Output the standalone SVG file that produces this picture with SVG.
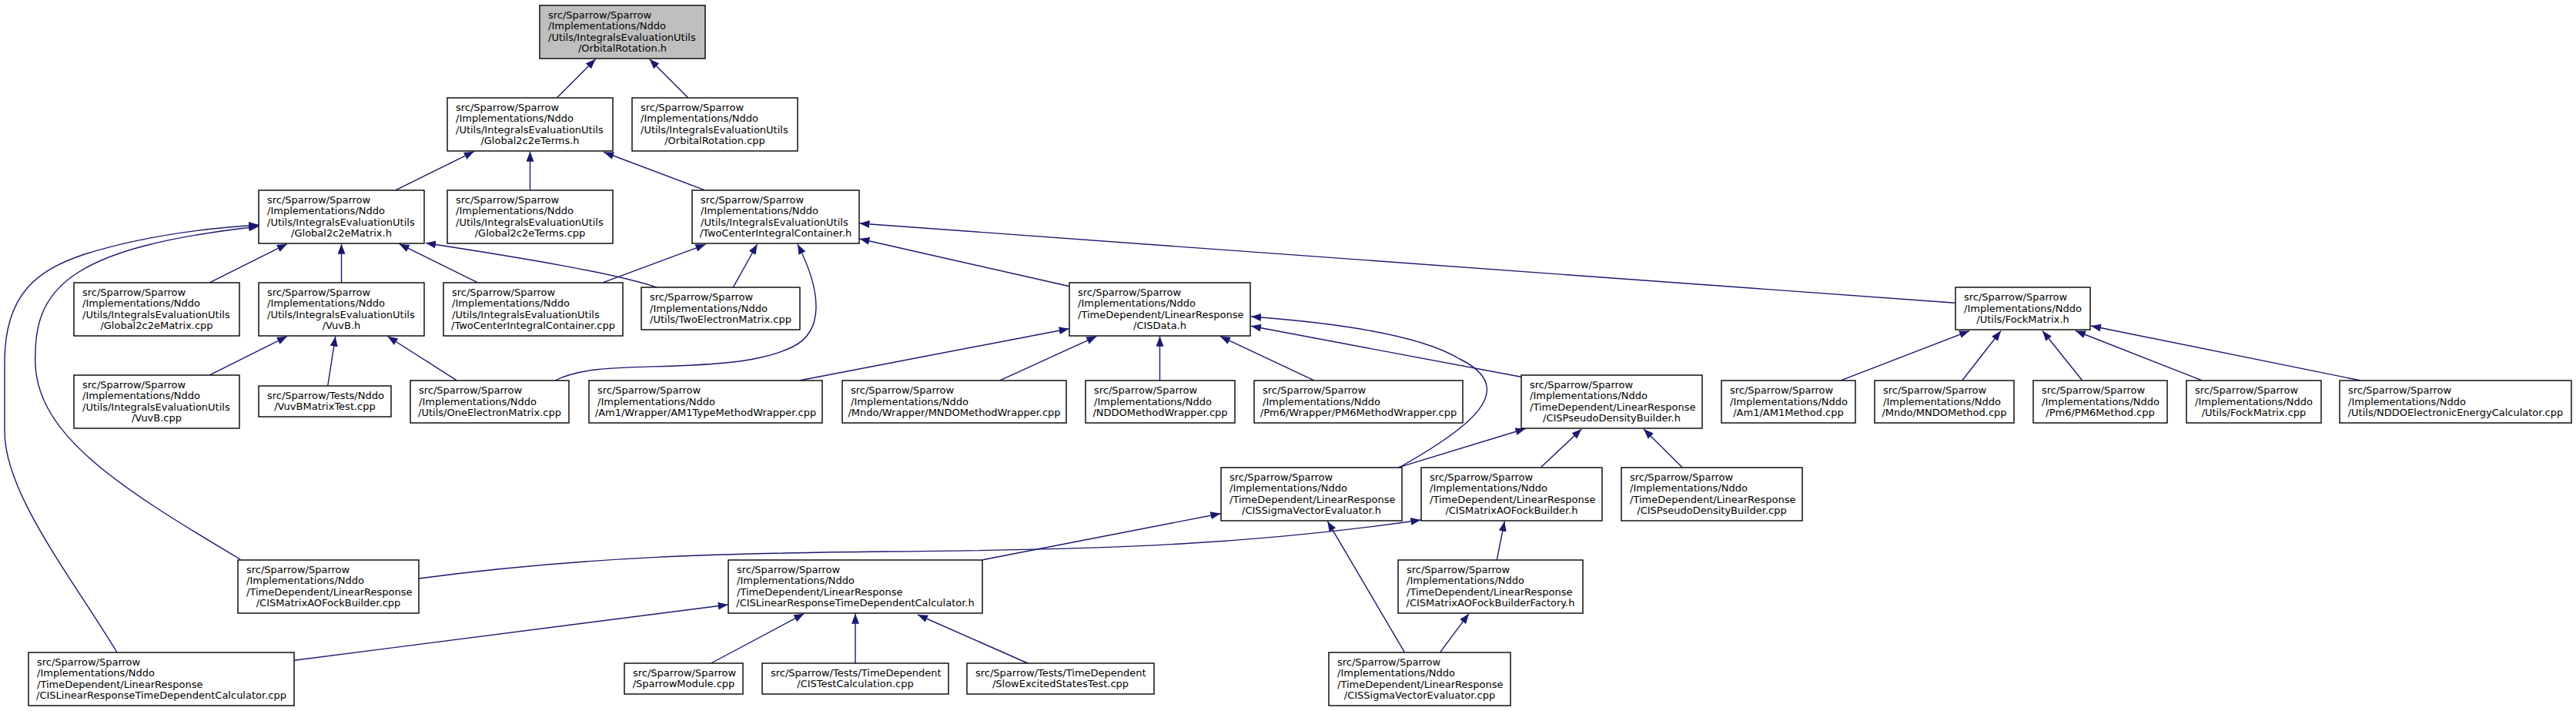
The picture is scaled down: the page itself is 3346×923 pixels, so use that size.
<svg xmlns="http://www.w3.org/2000/svg" width="3346" height="923" viewBox="0 0 3346 923">
<style>
.node rect{fill:#fff;stroke:#000;stroke-width:1.4}
.node rect.root{fill:#bfbfbf}
.node text{font-family:"DejaVu Sans","Liberation Sans",sans-serif;font-size:13px;fill:#000}
.node text.c{text-anchor:middle}
.edges path{fill:none;stroke:#191970;stroke-width:1.4;marker-end:url(#ah)}
</style>
<defs>
<marker id="ah" markerUnits="userSpaceOnUse" viewBox="0 0 13 10" refX="13" refY="5" markerWidth="13" markerHeight="10" orient="auto">
<path d="M0,0 L13,5 L0,10 z" fill="#191970"/>
</marker>
</defs>
<rect width="3346" height="923" fill="#fff"/>
<g class="edges">
<path d="M723.6,126.7 L773.6,76.7"/>
<path d="M893.6,126.7 L843.6,76.7"/>
<path d="M514.3,246.7 L615.7,196.7"/>
<path d="M688.5,246.7 L688.5,196.7"/>
<path d="M915,246.7 L784.3,197.5"/>
<path d="M272.9,366.7 L372.9,316.7"/>
<path d="M443.5,366.7 L443.5,316.7"/>
<path d="M620,366.7 L518.6,316.7"/>
<path d="M853.6,373.3 C800,355 680,335 553,315.5"/>
<path d="M312,726 C150,630 40,560 46,460 C46,370 100,320 336,294"/>
<path d="M152,847 C90,745 6,640 6,560 L6,470 C6,380 50,350 110,330 C190,305 270,296 336,292"/>
<path d="M783.6,366.7 L916.4,317.3"/>
<path d="M952.1,373.3 L983.6,317"/>
<path d="M721,494 C760,474 820,478 900,474 C960,471 1000,465 1030,450 C1070,430 1068,380 1036,317"/>
<path d="M1389.3,371.7 L1116.5,310"/>
<path d="M2539.6,393.3 L1116.5,290"/>
<path d="M272.9,486.7 L372.9,436.7"/>
<path d="M425.7,501 L435.7,436.7"/>
<path d="M592.9,493.7 L503.6,436.7"/>
<path d="M1039.3,493.7 L1388.6,426.7"/>
<path d="M1299.3,493.7 L1424.3,436.7"/>
<path d="M1506.5,493.7 L1506.5,436.7"/>
<path d="M1706.4,493.7 L1585,436.7"/>
<path d="M1975.7,489.3 L1625,423.3"/>
<path d="M1817,607 C1910,555 1975,505 1896,466 C1840,432 1720,418 1625,411"/>
<path d="M2391.7,493.7 L2558,429.5"/>
<path d="M2548.9,493.7 L2599,429.5"/>
<path d="M2704.6,493.7 L2653,429.5"/>
<path d="M2859.6,493.7 L2696,429.5"/>
<path d="M3065.3,493.7 L2716,423"/>
<path d="M1817,606.7 L1981.4,556.5"/>
<path d="M2001.4,606.7 L2054.3,557"/>
<path d="M2185,606.7 L2135,557"/>
<path d="M1276.4,726.7 L1585.5,666.7"/>
<path d="M1824.3,846.7 L1724.3,676.7"/>
<path d="M544,751 C760,722 950,718 1150,716 C1450,714 1640,705 1845.5,675"/>
<path d="M1944.3,726.7 L1954.3,676.7"/>
<path d="M1870.7,846.7 L1907.9,796.7"/>
<path d="M382.1,857.3 L945.7,785"/>
<path d="M923.6,861 L1044.3,796.7"/>
<path d="M1111,861 L1111,796.7"/>
<path d="M1335,861 L1192,798"/>
</g>
<g id="n0" class="node"><rect class="root" x="701" y="7" width="215" height="69"/><text x="712" y="24.2">src/Sparrow/Sparrow</text><text x="712" y="38.4">/Implementations/Nddo</text><text x="712" y="52.6">/Utils/IntegralsEvaluationUtils</text><text class="c" x="808.5" y="66.8">/OrbitalRotation.h</text></g>
<g id="n1" class="node"><rect x="581" y="127" width="215" height="69"/><text x="592" y="144.2">src/Sparrow/Sparrow</text><text x="592" y="158.4">/Implementations/Nddo</text><text x="592" y="172.6">/Utils/IntegralsEvaluationUtils</text><text class="c" x="688.5" y="186.8">/Global2c2eTerms.h</text></g>
<g id="n2" class="node"><rect x="821" y="127" width="215" height="69"/><text x="832" y="144.2">src/Sparrow/Sparrow</text><text x="832" y="158.4">/Implementations/Nddo</text><text x="832" y="172.6">/Utils/IntegralsEvaluationUtils</text><text class="c" x="928.5" y="186.8">/OrbitalRotation.cpp</text></g>
<g id="n3" class="node"><rect x="336" y="247" width="215" height="69"/><text x="347" y="264.2">src/Sparrow/Sparrow</text><text x="347" y="278.4">/Implementations/Nddo</text><text x="347" y="292.6">/Utils/IntegralsEvaluationUtils</text><text class="c" x="443.5" y="306.8">/Global2c2eMatrix.h</text></g>
<g id="n4" class="node"><rect x="581" y="247" width="215" height="69"/><text x="592" y="264.2">src/Sparrow/Sparrow</text><text x="592" y="278.4">/Implementations/Nddo</text><text x="592" y="292.6">/Utils/IntegralsEvaluationUtils</text><text class="c" x="688.5" y="306.8">/Global2c2eTerms.cpp</text></g>
<g id="n5" class="node"><rect x="899" y="247" width="217" height="69"/><text x="910" y="264.2">src/Sparrow/Sparrow</text><text x="910" y="278.4">/Implementations/Nddo</text><text x="910" y="292.6">/Utils/IntegralsEvaluationUtils</text><text class="c" x="1007.5" y="306.8">/TwoCenterIntegralContainer.h</text></g>
<g id="n6" class="node"><rect x="96" y="367" width="215" height="69"/><text x="107" y="384.2">src/Sparrow/Sparrow</text><text x="107" y="398.4">/Implementations/Nddo</text><text x="107" y="412.6">/Utils/IntegralsEvaluationUtils</text><text class="c" x="203.5" y="426.8">/Global2c2eMatrix.cpp</text></g>
<g id="n7" class="node"><rect x="336" y="367" width="215" height="69"/><text x="347" y="384.2">src/Sparrow/Sparrow</text><text x="347" y="398.4">/Implementations/Nddo</text><text x="347" y="412.6">/Utils/IntegralsEvaluationUtils</text><text class="c" x="443.5" y="426.8">/VuvB.h</text></g>
<g id="n8" class="node"><rect x="576" y="367" width="233" height="69"/><text x="587" y="384.2">src/Sparrow/Sparrow</text><text x="587" y="398.4">/Implementations/Nddo</text><text x="587" y="412.6">/Utils/IntegralsEvaluationUtils</text><text class="c" x="692.5" y="426.8">/TwoCenterIntegralContainer.cpp</text></g>
<g id="n9" class="node"><rect x="833" y="373" width="206" height="55"/><text x="844" y="390.3">src/Sparrow/Sparrow</text><text x="844" y="404.5">/Implementations/Nddo</text><text class="c" x="936" y="418.7">/Utils/TwoElectronMatrix.cpp</text></g>
<g id="n10" class="node"><rect x="96" y="487" width="215" height="69"/><text x="107" y="504.2">src/Sparrow/Sparrow</text><text x="107" y="518.4">/Implementations/Nddo</text><text x="107" y="532.6">/Utils/IntegralsEvaluationUtils</text><text class="c" x="203.5" y="546.8">/VuvB.cpp</text></g>
<g id="n11" class="node"><rect x="336" y="501" width="172" height="40"/><text x="347" y="517.9">src/Sparrow/Tests/Nddo</text><text class="c" x="422" y="532.1">/VuvBMatrixTest.cpp</text></g>
<g id="n12" class="node"><rect x="533" y="494" width="206" height="55"/><text x="544" y="511.3">src/Sparrow/Sparrow</text><text x="544" y="525.5">/Implementations/Nddo</text><text class="c" x="636" y="539.7">/Utils/OneElectronMatrix.cpp</text></g>
<g id="n13" class="node"><rect x="765" y="494" width="303" height="55"/><text x="776" y="511.3">src/Sparrow/Sparrow</text><text x="776" y="525.5">/Implementations/Nddo</text><text class="c" x="916.5" y="539.7">/Am1/Wrapper/AM1TypeMethodWrapper.cpp</text></g>
<g id="n14" class="node"><rect x="1094" y="494" width="291" height="55"/><text x="1105" y="511.3">src/Sparrow/Sparrow</text><text x="1105" y="525.5">/Implementations/Nddo</text><text class="c" x="1239.5" y="539.7">/Mndo/Wrapper/MNDOMethodWrapper.cpp</text></g>
<g id="n15" class="node"><rect x="1410" y="494" width="194" height="55"/><text x="1421" y="511.3">src/Sparrow/Sparrow</text><text x="1421" y="525.5">/Implementations/Nddo</text><text class="c" x="1507" y="539.7">/NDDOMethodWrapper.cpp</text></g>
<g id="n16" class="node"><rect x="1629" y="494" width="271" height="55"/><text x="1640" y="511.3">src/Sparrow/Sparrow</text><text x="1640" y="525.5">/Implementations/Nddo</text><text class="c" x="1764.5" y="539.7">/Pm6/Wrapper/PM6MethodWrapper.cpp</text></g>
<g id="n17" class="node"><rect x="1389" y="367" width="235" height="69"/><text x="1400" y="384.2">src/Sparrow/Sparrow</text><text x="1400" y="398.4">/Implementations/Nddo</text><text x="1400" y="412.6">/TimeDependent/LinearResponse</text><text class="c" x="1506.5" y="426.8">/CISData.h</text></g>
<g id="n18" class="node"><rect x="1976" y="487" width="235" height="69"/><text x="1987" y="504.2">src/Sparrow/Sparrow</text><text x="1987" y="518.4">/Implementations/Nddo</text><text x="1987" y="532.6">/TimeDependent/LinearResponse</text><text class="c" x="2093.5" y="546.8">/CISPseudoDensityBuilder.h</text></g>
<g id="n19" class="node"><rect x="1586" y="607" width="235" height="69"/><text x="1597" y="624.2">src/Sparrow/Sparrow</text><text x="1597" y="638.4">/Implementations/Nddo</text><text x="1597" y="652.6">/TimeDependent/LinearResponse</text><text class="c" x="1703.5" y="666.8">/CISSigmaVectorEvaluator.h</text></g>
<g id="n20" class="node"><rect x="1846" y="607" width="235" height="69"/><text x="1857" y="624.2">src/Sparrow/Sparrow</text><text x="1857" y="638.4">/Implementations/Nddo</text><text x="1857" y="652.6">/TimeDependent/LinearResponse</text><text class="c" x="1963.5" y="666.8">/CISMatrixAOFockBuilder.h</text></g>
<g id="n21" class="node"><rect x="2106" y="607" width="235" height="69"/><text x="2117" y="624.2">src/Sparrow/Sparrow</text><text x="2117" y="638.4">/Implementations/Nddo</text><text x="2117" y="652.6">/TimeDependent/LinearResponse</text><text class="c" x="2223.5" y="666.8">/CISPseudoDensityBuilder.cpp</text></g>
<g id="n22" class="node"><rect x="309" y="727" width="235" height="69"/><text x="320" y="744.2">src/Sparrow/Sparrow</text><text x="320" y="758.4">/Implementations/Nddo</text><text x="320" y="772.6">/TimeDependent/LinearResponse</text><text class="c" x="426.5" y="786.8">/CISMatrixAOFockBuilder.cpp</text></g>
<g id="n23" class="node"><rect x="946" y="727" width="330" height="69"/><text x="957" y="744.2">src/Sparrow/Sparrow</text><text x="957" y="758.4">/Implementations/Nddo</text><text x="957" y="772.6">/TimeDependent/LinearResponse</text><text class="c" x="1111" y="786.8">/CISLinearResponseTimeDependentCalculator.h</text></g>
<g id="n24" class="node"><rect x="1816" y="727" width="240" height="69"/><text x="1827" y="744.2">src/Sparrow/Sparrow</text><text x="1827" y="758.4">/Implementations/Nddo</text><text x="1827" y="772.6">/TimeDependent/LinearResponse</text><text class="c" x="1936" y="786.8">/CISMatrixAOFockBuilderFactory.h</text></g>
<g id="n25" class="node"><rect x="37" y="847" width="345" height="69"/><text x="48" y="864.2">src/Sparrow/Sparrow</text><text x="48" y="878.4">/Implementations/Nddo</text><text x="48" y="892.6">/TimeDependent/LinearResponse</text><text class="c" x="209.5" y="906.8">/CISLinearResponseTimeDependentCalculator.cpp</text></g>
<g id="n26" class="node"><rect x="811" y="861" width="154" height="40"/><text x="822" y="877.9">src/Sparrow/Sparrow</text><text class="c" x="888" y="892.1">/SparrowModule.cpp</text></g>
<g id="n27" class="node"><rect x="990" y="861" width="242" height="40"/><text x="1001" y="877.9">src/Sparrow/Tests/TimeDependent</text><text class="c" x="1111" y="892.1">/CISTestCalculation.cpp</text></g>
<g id="n28" class="node"><rect x="1256" y="861" width="243" height="40"/><text x="1267" y="877.9">src/Sparrow/Tests/TimeDependent</text><text class="c" x="1377.5" y="892.1">/SlowExcitedStatesTest.cpp</text></g>
<g id="n29" class="node"><rect x="1726" y="847" width="236" height="69"/><text x="1737" y="864.2">src/Sparrow/Sparrow</text><text x="1737" y="878.4">/Implementations/Nddo</text><text x="1737" y="892.6">/TimeDependent/LinearResponse</text><text class="c" x="1844" y="906.8">/CISSigmaVectorEvaluator.cpp</text></g>
<g id="n30" class="node"><rect x="2540" y="373" width="175" height="55"/><text x="2551" y="390.3">src/Sparrow/Sparrow</text><text x="2551" y="404.5">/Implementations/Nddo</text><text class="c" x="2627.5" y="418.7">/Utils/FockMatrix.h</text></g>
<g id="n31" class="node"><rect x="2236" y="494" width="174" height="55"/><text x="2247" y="511.3">src/Sparrow/Sparrow</text><text x="2247" y="525.5">/Implementations/Nddo</text><text class="c" x="2323" y="539.7">/Am1/AM1Method.cpp</text></g>
<g id="n32" class="node"><rect x="2435" y="494" width="181" height="55"/><text x="2446" y="511.3">src/Sparrow/Sparrow</text><text x="2446" y="525.5">/Implementations/Nddo</text><text class="c" x="2525.5" y="539.7">/Mndo/MNDOMethod.cpp</text></g>
<g id="n33" class="node"><rect x="2641" y="494" width="174" height="55"/><text x="2652" y="511.3">src/Sparrow/Sparrow</text><text x="2652" y="525.5">/Implementations/Nddo</text><text class="c" x="2728" y="539.7">/Pm6/PM6Method.cpp</text></g>
<g id="n34" class="node"><rect x="2840" y="494" width="175" height="55"/><text x="2851" y="511.3">src/Sparrow/Sparrow</text><text x="2851" y="525.5">/Implementations/Nddo</text><text class="c" x="2927.5" y="539.7">/Utils/FockMatrix.cpp</text></g>
<g id="n35" class="node"><rect x="3039" y="494" width="301" height="55"/><text x="3050" y="511.3">src/Sparrow/Sparrow</text><text x="3050" y="525.5">/Implementations/Nddo</text><text class="c" x="3189.5" y="539.7">/Utils/NDDOElectronicEnergyCalculator.cpp</text></g>
</svg>
